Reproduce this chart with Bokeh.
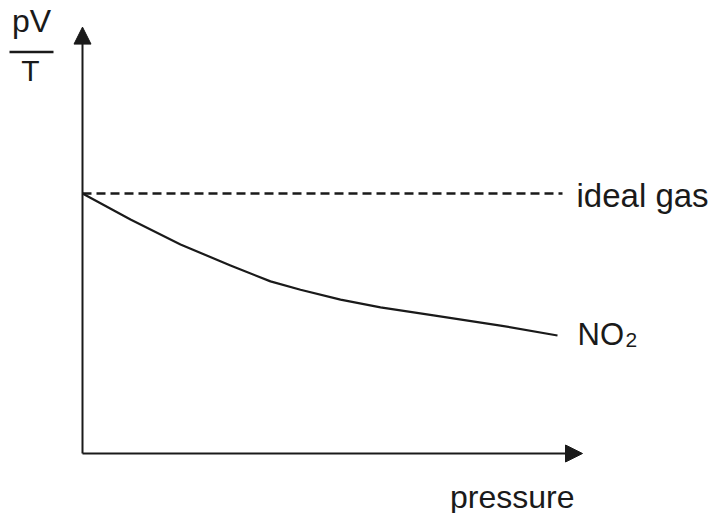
from bokeh.plotting import figure
from bokeh.models import Range1d, Arrow, NormalHead, Label
from bokeh.embed import file_html
from bokeh.resources import INLINE

# Schematic pV/T versus pressure for an ideal gas and for NO2
pressure = [0.0, 0.96, 1.96, 2.96, 3.76, 4.36, 5.16, 5.96, 7.02, 8.36, 9.5]
pv_over_t_no2 = [1.0, 0.9, 0.804, 0.723, 0.662, 0.63, 0.592, 0.562, 0.531, 0.492, 0.454]
ideal_gas_level = 1.0
ideal_gas_end = 9.6
x_axis_max = 10.0
y_axis_max = 1.64

INK = "#1a1a1a"
FONT = "Liberation Sans"

# plot scale: 50 px per pressure unit, 260 px per pV/T unit
XS, YS = 50.0, 260.0
x_lo, x_hi = -82 / XS, (711 - 82) / XS
y_lo, y_hi = -(513 - 453) / YS, 453 / YS

p = figure(width=711, height=513, output_backend="svg", toolbar_location=None,
           x_range=Range1d(x_lo, x_hi), y_range=Range1d(y_lo, y_hi),
           min_border=0, min_border_left=0, min_border_right=0,
           min_border_top=0, min_border_bottom=0)
p.axis.visible = False
p.grid.visible = False
p.outline_line_color = None
p.background_fill_color = "white"
p.border_fill_color = "white"

# axes with arrow heads
for xe, ye in [(x_axis_max, 0.0), (0.0, y_axis_max)]:
    p.add_layout(Arrow(end=NormalHead(size=17, fill_color=INK, line_color=INK, line_width=1),
                       x_start=0.0, y_start=0.0, x_end=xe, y_end=ye,
                       line_color=INK, line_width=2))

# ideal gas reference line
p.line([0.0, ideal_gas_end], [ideal_gas_level, ideal_gas_level],
       line_color=INK, line_width=2.3, line_dash="9 5")

# NO2 curve
p.line(pressure, pv_over_t_no2, line_color=INK, line_width=2.2, line_join="round")

def lab(text, x, y, dx, dy, size, align="left", baseline="alphabetic"):
    p.add_layout(Label(x=x, y=y, x_offset=dx, y_offset=dy, text=text,
                       text_font=FONT, text_font_size=size, text_color=INK,
                       text_align=align, text_baseline=baseline))

lab("ideal gas", ideal_gas_end, ideal_gas_level, 14, -2, "33px")
lab("NO", pressure[-1], pv_over_t_no2[-1], 20, 1, "31px")
lab("2", pressure[-1], pv_over_t_no2[-1], 68, -5, "21px")
lab("pressure", x_axis_max, 0.0, -8, -43, "32px", align="right")

# pV/T fraction label beside the top of the vertical axis
lab("pV", 0.0, y_axis_max, -51, 6, "32px", align="center")
lab("T", 0.0, y_axis_max, -52, -43, "30px", align="center")
bar_y = y_axis_max - 25 / YS
p.line([-73 / XS, -29 / XS], [bar_y, bar_y], line_color=INK, line_width=2.5)

open("out.html", "w").write(file_html(p, INLINE))
